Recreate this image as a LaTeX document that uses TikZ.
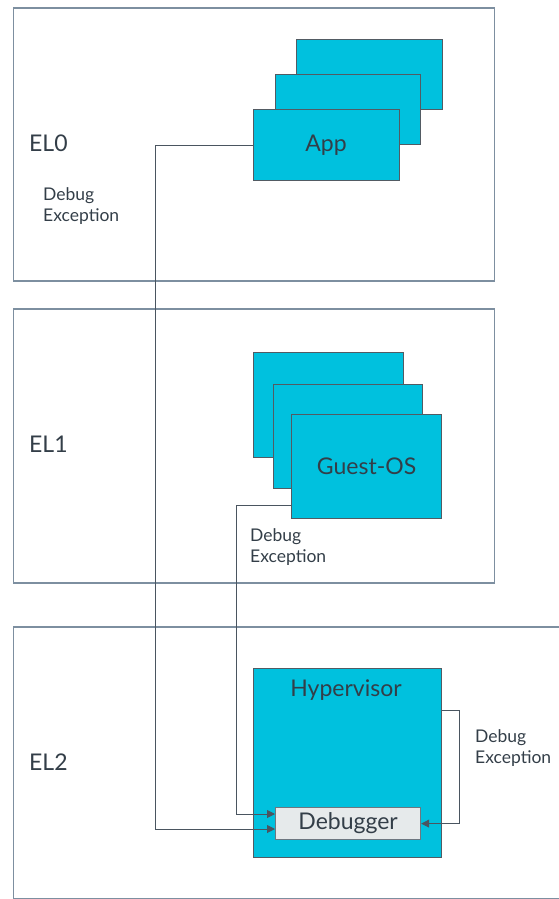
\documentclass[tikz,border=0pt]{standalone}
\usepackage{fontspec}
\setmainfont{Lato}
\usetikzlibrary{arrows.meta,calc}
\definecolor{armcyan}{HTML}{00C1DE}
\definecolor{armdark}{HTML}{333E48}
\definecolor{framegray}{HTML}{7D8FA0}
\definecolor{linegray}{HTML}{4A5560}
\definecolor{dbgfill}{HTML}{E6EAEB}
\begin{document}
\begin{tikzpicture}[x=1pt,y=-1pt,
  frame/.style={draw=framegray,line width=1.8pt,anchor=north west,inner sep=0pt},
  cyanbox/.style={draw=armdark!85,fill=armcyan,line width=1.2pt,anchor=north west,inner sep=0pt,text=armdark,font=\fontsize{23}{27}\selectfont},
  dbgbox/.style={draw=linegray!80,fill=dbgfill,line width=1.2pt,anchor=north west,inner sep=0pt,text=armdark,font=\fontsize{23}{27}\selectfont},
  lvl/.style={anchor=west,inner sep=0pt,text=armdark,font=\fontsize{23}{27}\selectfont},
  small/.style={anchor=north west,inner sep=0pt,align=left,text=armdark,font=\fontsize{17.5}{21}\selectfont},
  conn/.style={draw=linegray,line width=1pt},
  tip/.style={-{Triangle[length=8pt,width=8pt]}}
]
\useasboundingbox (0,0) rectangle (559,899);

% exception level frames
\node[frame,minimum width=481pt,minimum height=273pt] (el0) at (12.5,7) {};
\node[frame,minimum width=481pt,minimum height=274pt] (el1) at (12.5,308) {};
\node[frame,minimum width=600pt,minimum height=271.5pt] (el2) at (12.5,626) {};

\node[lvl] (l0) at (29,143) {EL0};
\node[lvl] (l1) at (29,444) {EL1};
\node[lvl] (l2) at (29,762) {EL2};

% App stack
\node[cyanbox,minimum width=146pt,minimum height=70pt] (app3) at (296,39) {};
\node[cyanbox,minimum width=145pt,minimum height=70pt] (app2) at (275,74) {};
\node[cyanbox,minimum width=146pt,minimum height=71pt] (app) at (252.5,109) {App};

% Guest-OS stack
\node[cyanbox,minimum width=150pt,minimum height=105pt] (gos3) at (253,352) {};
\node[cyanbox,minimum width=149pt,minimum height=104pt] (gos2) at (272.5,384) {};
\node[cyanbox,minimum width=150pt,minimum height=104pt] (gos) at (291,414) {Guest-OS};

% Hypervisor and debugger
\node[cyanbox,minimum width=188pt,minimum height=189pt] (hyp) at (253,668) {};
\node[anchor=center,inner sep=0pt,text=armdark,font=\fontsize{23}{27}\selectfont] (hyptext) at (346,690) {Hypervisor};
\node[dbgbox,minimum width=145pt,minimum height=32pt] (dbg) at (275,807) {Debugger};

% labels
\node[small] (de0) at (43,187) {Debug\\Exception};
\node[small] (de1) at (250,528) {Debug\\Exception};
\node[small] (de2) at (475,729) {Debug\\Exception};

% connectors
\coordinate (a1) at (155,829);
\draw[conn,tip] (app.west) -| (a1) -- (dbg.west |- a1);
\coordinate (g0) at ($(gos.south west)+(0,-14)$);
\coordinate (g1) at (236,814);
\draw[conn,tip] (g0) -| (g1) -- (dbg.west |- g1);
\coordinate (h0) at ($(hyp.north east)+(0,42)$);
\coordinate (h1) at (459,710);
\draw[conn,tip] (h0) -- (h1) |- (dbg.east);
\end{tikzpicture}
\end{document}
